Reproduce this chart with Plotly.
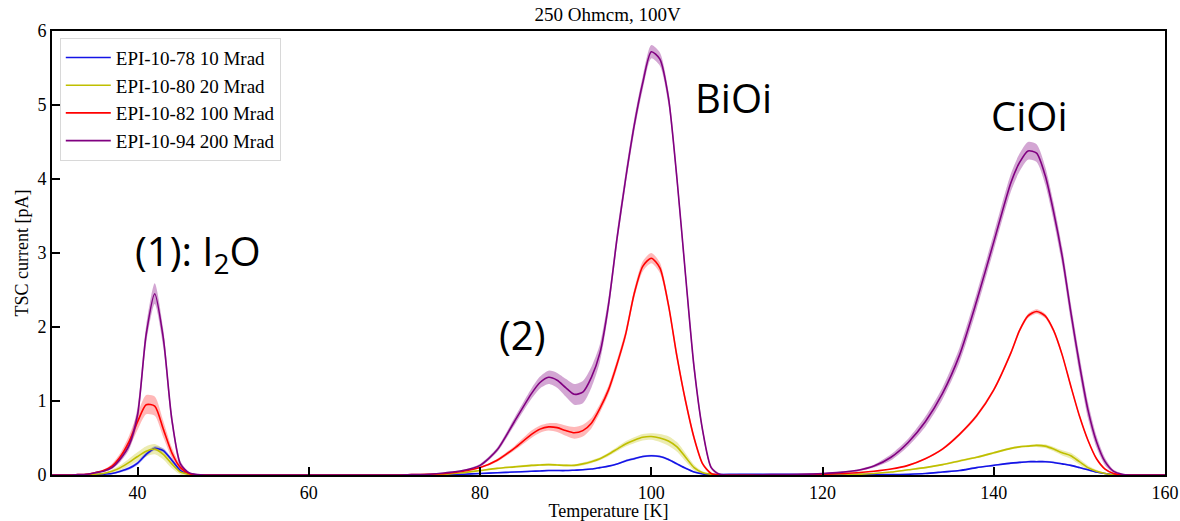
import plotly.graph_objects as go

temperature = [30, 32, 33, 34, 35, 36, 37, 38, 39, 40,
               41, 42, 43, 44, 45, 46, 47, 48, 50,
               60, 70, 72, 74, 76, 78, 80, 82, 84, 86,
               87, 88, 89, 90, 91, 92, 93, 94, 95, 96,
               97, 98, 99, 100, 101, 102, 103, 104, 105, 106,
               107, 108, 110,
               114, 118, 120, 122, 124, 126, 128, 130, 132, 134,
               136, 138, 140, 142, 143, 144, 145, 146, 147, 148,
               149, 150, 151, 152, 153, 154, 155, 156, 158, 160]

labels = ["EPI-10-78 10 Mrad", "EPI-10-80 20 Mrad", "EPI-10-82 100 Mrad", "EPI-10-94 200 Mrad"]
colors = ["#1414e6", "#bfbf00", "#ff0000", "#800080"]
band_colors = ["rgba(20,20,230,0.30)", "rgba(191,191,0,0.30)", "rgba(255,0,0,0.28)", "rgba(128,0,128,0.35)"]

i_10mrad = [0, 0, 0, 0, 0.005, 0.01, 0.02, 0.05, 0.09, 0.16,
            0.28, 0.36, 0.33, 0.2, 0.06, 0.01, 0, 0, 0,
            0, 0, 0, 0, 0.005, 0.01, 0.02, 0.03, 0.04, 0.05,
            0.055, 0.06, 0.06, 0.06, 0.065, 0.07, 0.08, 0.1, 0.12, 0.15,
            0.19, 0.22, 0.25, 0.26, 0.25, 0.21, 0.15, 0.09, 0.04, 0.015,
            0.005, 0.005, 0.01,
            0.01, 0.01, 0.01, 0.005, 0.005, 0.005, 0.005, 0.01, 0.02, 0.04,
            0.06, 0.1, 0.13, 0.16, 0.17, 0.18, 0.18, 0.18, 0.17, 0.15,
            0.13, 0.1, 0.07, 0.04, 0.02, 0.005, 0, 0, 0, 0]

i_20mrad = [0, 0, 0, 0.005, 0.01, 0.02, 0.05, 0.1, 0.17, 0.25,
            0.32, 0.35, 0.28, 0.15, 0.04, 0.01, 0, 0, 0,
            0, 0, 0, 0.005, 0.01, 0.03, 0.06, 0.09, 0.11, 0.13,
            0.135, 0.14, 0.135, 0.13, 0.13, 0.15, 0.18, 0.22, 0.28, 0.35,
            0.42, 0.47, 0.51, 0.52, 0.5, 0.46, 0.38, 0.24, 0.1, 0.03,
            0.01, 0, 0,
            0, 0, 0, 0, 0.01, 0.02, 0.04, 0.07, 0.1, 0.14,
            0.19, 0.24, 0.3, 0.36, 0.38, 0.39, 0.4, 0.39, 0.35, 0.3,
            0.26, 0.18, 0.1, 0.05, 0.02, 0, 0, 0, 0, 0]

i_100mrad = [0, 0, 0.005, 0.01, 0.03, 0.06, 0.12, 0.25, 0.45, 0.72,
             0.95, 0.93, 0.62, 0.3, 0.1, 0.02, 0, 0, 0,
             0, 0, 0.005, 0.01, 0.02, 0.05, 0.1, 0.2, 0.36, 0.55,
             0.62, 0.65, 0.64, 0.6, 0.57, 0.6, 0.7, 0.9, 1.15, 1.5,
             1.9, 2.45, 2.82, 2.93, 2.8, 2.3, 1.6, 1.0, 0.5, 0.15,
             0.02, 0, 0,
             0, 0.005, 0.01, 0.02, 0.03, 0.05, 0.08, 0.13, 0.22, 0.35,
             0.55, 0.8, 1.15, 1.65, 1.95, 2.15, 2.21, 2.15, 1.95, 1.62,
             1.2, 0.8, 0.47, 0.22, 0.08, 0.02, 0, 0, 0, 0]

i_200mrad = [0, 0, 0.005, 0.01, 0.03, 0.05, 0.1, 0.22, 0.4, 0.82,
             1.9, 2.45, 1.85, 0.75, 0.15, 0.03, 0.005, 0, 0,
             0, 0, 0.005, 0.01, 0.03, 0.06, 0.13, 0.34, 0.72, 1.1,
             1.25, 1.32, 1.28, 1.18, 1.09, 1.12, 1.32, 1.65, 2.3, 3.2,
             4.0, 4.72, 5.3, 5.72, 5.62, 5.1, 4.0, 2.7, 1.45, 0.6,
             0.1, 0.01, 0,
             0.005, 0.01, 0.02, 0.035, 0.06, 0.12, 0.24, 0.44, 0.72, 1.1,
             1.62, 2.35, 3.15, 3.95, 4.22, 4.38, 4.35, 4.05, 3.55, 2.95,
             2.2, 1.5, 0.88, 0.45, 0.18, 0.05, 0.01, 0, 0, 0]

err_10mrad = [0, 0, 0, 0, 0, 0.005, 0.01, 0.015, 0.02, 0.025,
              0.03, 0.03, 0.03, 0.025, 0.015, 0.005, 0, 0, 0,
              0, 0, 0, 0, 0, 0.005, 0.005, 0.01, 0.01, 0.01,
              0.01, 0.01, 0.01, 0.01, 0.01, 0.01, 0.01, 0.01, 0.01, 0.01,
              0.015, 0.015, 0.015, 0.015, 0.015, 0.015, 0.015, 0.01, 0.01, 0.005,
              0.005, 0.005, 0.005,
              0.005, 0.005, 0.005, 0.005, 0.005, 0.005, 0.005, 0.005, 0.005, 0.01,
              0.01, 0.01, 0.01, 0.012, 0.012, 0.012, 0.012, 0.012, 0.012, 0.012,
              0.012, 0.012, 0.01, 0.01, 0.005, 0.005, 0, 0, 0, 0]

err_20mrad = [0, 0, 0, 0, 0.005, 0.01, 0.02, 0.035, 0.05, 0.06,
              0.07, 0.07, 0.07, 0.06, 0.035, 0.01, 0, 0, 0,
              0, 0, 0, 0, 0, 0.005, 0.01, 0.01, 0.015, 0.015,
              0.015, 0.015, 0.015, 0.015, 0.015, 0.02, 0.02, 0.02, 0.025, 0.03,
              0.035, 0.04, 0.045, 0.045, 0.055, 0.065, 0.065, 0.055, 0.04, 0.02,
              0.01, 0, 0,
              0, 0, 0, 0, 0, 0.005, 0.005, 0.01, 0.01, 0.01,
              0.015, 0.015, 0.015, 0.015, 0.015, 0.015, 0.02, 0.025, 0.03, 0.035,
              0.04, 0.04, 0.03, 0.02, 0.01, 0.005, 0, 0, 0, 0]

err_100mrad = [0, 0, 0, 0, 0.005, 0.01, 0.03, 0.05, 0.08, 0.11,
               0.13, 0.13, 0.11, 0.07, 0.035, 0.01, 0, 0, 0,
               0, 0, 0, 0, 0, 0.005, 0.01, 0.02, 0.03, 0.05,
               0.05, 0.05, 0.06, 0.07, 0.08, 0.08, 0.07, 0.06, 0.06, 0.06,
               0.06, 0.06, 0.07, 0.07, 0.07, 0.06, 0.06, 0.05, 0.04, 0.02,
               0.01, 0, 0,
               0, 0, 0, 0, 0, 0.005, 0.005, 0.01, 0.01, 0.015,
               0.02, 0.025, 0.025, 0.03, 0.03, 0.03, 0.03, 0.03, 0.03, 0.03,
               0.03, 0.025, 0.02, 0.015, 0.01, 0.005, 0, 0, 0, 0]

err_200mrad = [0, 0, 0, 0, 0.005, 0.01, 0.02, 0.04, 0.06, 0.1,
               0.12, 0.14, 0.12, 0.08, 0.04, 0.01, 0, 0, 0,
               0, 0, 0, 0, 0.005, 0.01, 0.02, 0.03, 0.05, 0.07,
               0.08, 0.09, 0.1, 0.12, 0.14, 0.15, 0.14, 0.12, 0.1, 0.09,
               0.09, 0.09, 0.09, 0.09, 0.09, 0.09, 0.09, 0.09, 0.08, 0.05,
               0.02, 0.01, 0,
               0, 0.005, 0.005, 0.01, 0.015, 0.02, 0.04, 0.05, 0.07, 0.08,
               0.1, 0.11, 0.11, 0.12, 0.12, 0.12, 0.12, 0.12, 0.12, 0.12,
               0.12, 0.12, 0.11, 0.08, 0.05, 0.02, 0.01, 0, 0, 0]

x_ticks = [40, 60, 80, 100, 120, 140, 160]
y_ticks = [0, 1, 2, 3, 4, 5, 6]

series = [i_10mrad, i_20mrad, i_100mrad, i_200mrad]
errors = [err_10mrad, err_20mrad, err_100mrad, err_200mrad]
for s, e in zip(series, errors):
    assert len(s) == len(temperature) and len(e) == len(temperature)

SERIF = "Liberation Serif, Times New Roman, serif"
SANS = "Open Sans, Noto Sans, sans-serif"

fig = go.Figure()
line_shape = dict(shape="spline", smoothing=0.7)

for vals, errs, name, col, bcol in zip(series, errors, labels, colors, band_colors):
    lower = [v - e for v, e in zip(vals, errs)]
    upper = [v + e for v, e in zip(vals, errs)]
    fig.add_trace(go.Scatter(x=temperature, y=lower, mode="lines",
                             line=dict(width=0, color=bcol, **line_shape),
                             showlegend=False, hoverinfo="skip"))
    fig.add_trace(go.Scatter(x=temperature, y=upper, mode="lines",
                             line=dict(width=0, color=bcol, **line_shape),
                             fill="tonexty", fillcolor=bcol,
                             showlegend=False, hoverinfo="skip"))

for vals, name, col in zip(series, labels, colors):
    fig.add_trace(go.Scatter(x=temperature, y=vals, mode="lines", name=name,
                             line=dict(width=1.6, color=col, **line_shape)))

annotations = [
    dict(x=47.1, y=3.01, text="(1): I<sub>2</sub>O"),
    dict(x=84.9, y=1.9, text="(2)"),
    dict(x=109.6, y=5.1, text="BiOi"),
    dict(x=144.2, y=4.86, text="CiOi"),
]
for a in annotations:
    fig.add_annotation(x=a["x"], y=a["y"], text=a["text"], showarrow=False,
                       xref="x", yref="y",
                       font=dict(family=SANS, size=40, color="black"))

axis_common = dict(showline=True, linecolor="black", linewidth=2, mirror=True,
                   ticks="inside", ticklen=8, tickwidth=1.5, tickcolor="black",
                   showgrid=False, zeroline=False, automargin=False,
                   tickfont=dict(family=SERIF, size=18, color="black"))

fig.update_layout(
    width=1180, height=521,
    margin=dict(l=52, r=15, t=31, b=46),
    paper_bgcolor="white", plot_bgcolor="white",
    title=dict(text="250 Ohmcm, 100V", x=0.515, xanchor="center", y=0.972, yanchor="middle",
               font=dict(family=SERIF, size=19, color="black")),
    xaxis=dict(range=[30, 160], tickvals=x_ticks,
               title=dict(text="Temperature [K]", standoff=0,
                          font=dict(family=SERIF, size=18, color="black")),
               **axis_common),
    yaxis=dict(range=[0, 6], tickvals=y_ticks,
               title=dict(text="TSC current [pA]", standoff=4,
                          font=dict(family=SERIF, size=18, color="black")),
               **axis_common),
    legend=dict(x=0.007, y=0.985, xanchor="left", yanchor="top",
                traceorder="normal", itemwidth=45,
                bgcolor="rgba(255,255,255,0.85)", bordercolor="#d8d8d8", borderwidth=1,
                font=dict(family=SERIF, size=19, color="black"),
                tracegroupgap=0),
    showlegend=True,
)

fig.write_html("out.html")
